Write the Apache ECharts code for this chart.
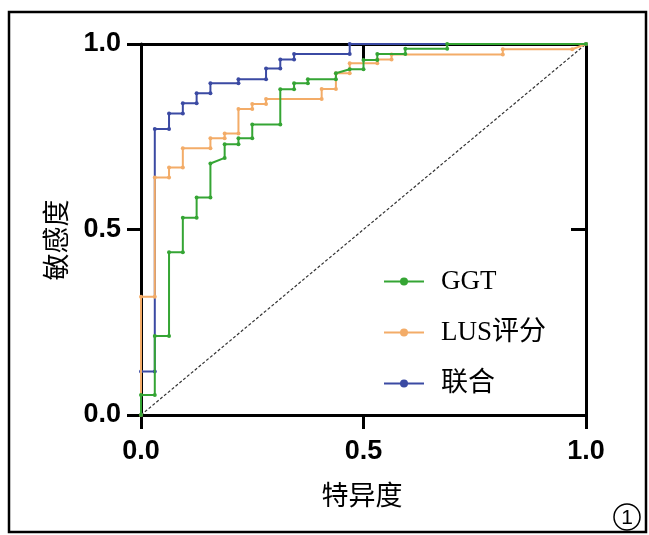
<!DOCTYPE html>
<html>
<head>
<meta charset="utf-8">
<script src="https://cdn.jsdelivr.net/npm/echarts@6/dist/echarts.min.js"></script>
<style>
html,body{margin:0;padding:0;background:#fff;}
#c{width:649px;height:535px;}
</style>
</head>
<body>
<div id="c"></div>
<script>
// ---- data (1 - specificity, sensitivity) ----
var seriesNames = ['GGT', 'LUS评分', '联合'];
var tickLabels = ['0.0', '0.5', '1.0'];
var xAxisTitle = '特异度';
var yAxisTitle = '敏感度';

var ggtFpr = [0,0,0.031,0.031,0.063,0.063,0.094,0.094,0.125,0.125,0.156,0.156,0.188,0.188,0.219,0.219,0.25,0.25,0.313,0.313,0.344,0.344,0.375,0.375,0.438,0.438,0.469,0.5,0.5,0.531,0.531,0.594,0.594,0.688,0.688,1];
var ggtTpr = [0,0.054,0.054,0.213,0.213,0.439,0.439,0.532,0.532,0.586,0.586,0.678,0.693,0.730,0.730,0.746,0.746,0.783,0.783,0.878,0.878,0.894,0.894,0.905,0.905,0.921,0.932,0.932,0.957,0.957,0.973,0.973,0.987,0.987,1,1];

var lusFpr = [0,0,0.031,0.031,0.063,0.063,0.094,0.094,0.156,0.156,0.188,0.188,0.219,0.219,0.25,0.25,0.281,0.281,0.406,0.406,0.438,0.438,0.469,0.469,0.531,0.531,0.563,0.563,0.813,0.813,0.969,1];
var lusTpr = [0,0.319,0.319,0.640,0.640,0.667,0.667,0.719,0.719,0.746,0.746,0.759,0.759,0.825,0.825,0.838,0.838,0.852,0.852,0.879,0.879,0.921,0.921,0.948,0.948,0.958,0.958,0.972,0.972,0.986,0.986,1];

var combFpr = [0,0,0.031,0.031,0.063,0.063,0.094,0.094,0.125,0.125,0.156,0.156,0.219,0.219,0.281,0.281,0.313,0.313,0.344,0.344,0.469,0.469,1];
var combTpr = [0,0.117,0.117,0.771,0.771,0.813,0.813,0.840,0.840,0.867,0.867,0.894,0.894,0.905,0.905,0.934,0.934,0.958,0.958,0.973,0.973,1,1];

var refX = [0, 1];
var refY = [0, 1];

function pairs(xs, ys){ var out=[]; for(var i=0;i<xs.length;i++){ out.push([xs[i], ys[i]]); } return out; }

var colors = { 'GGT':'#35a534', 'LUS评分':'#f3ac68', '联合':'#3b4aa3' };

var chart = echarts.init(document.getElementById('c'), null, {renderer:'canvas'});

var labelFont = {fontFamily:"'Liberation Sans', Arial, sans-serif", fontWeight:'bold', fontSize:27, color:'#000'};

function mkSeries(name, data, z){
  return {
    name: name, type:'line', data:data, clip:false, z:z,
    symbol:'circle', symbolSize:4, showAllSymbol:true,
    lineStyle:{color:colors[name], width:2},
    itemStyle:{color:colors[name]},
    emphasis:{disabled:true}, animation:false
  };
}

var option = {
  animation:false,
  backgroundColor:'#fff',
  grid:{left:141, top:44, width:445, height:371, containLabel:false},
  xAxis:[
    {type:'value', min:0, max:1, interval:0.5, position:'bottom',
     axisLine:{show:true, onZero:false, lineStyle:{color:'#000', width:3}},
     axisTick:{show:true, length:14, inside:false, lineStyle:{color:'#000', width:3}},
     axisLabel:Object.assign({margin:23, formatter:function(v){return tickLabels[Math.round(v*2)];}}, labelFont),
     splitLine:{show:false}},
    {type:'value', min:0, max:1, interval:0.5, position:'top',
     axisLine:{show:true, onZero:false, lineStyle:{color:'#000', width:3}},
     axisTick:{show:true, length:15, inside:true, lineStyle:{color:'#000', width:3}},
     axisLabel:{show:false}, splitLine:{show:false}}
  ],
  yAxis:[
    {type:'value', min:0, max:1, interval:0.5, position:'left',
     axisLine:{show:true, onZero:false, lineStyle:{color:'#000', width:3}},
     axisTick:{show:true, length:14, inside:false, lineStyle:{color:'#000', width:3}},
     axisLabel:Object.assign({margin:20, formatter:function(v){return tickLabels[Math.round(v*2)];}}, labelFont),
     splitLine:{show:false}},
    {type:'value', min:0, max:1, interval:0.5, position:'right',
     axisLine:{show:true, onZero:false, lineStyle:{color:'#000', width:3}},
     axisTick:{show:true, length:15, inside:true, lineStyle:{color:'#000', width:3}},
     axisLabel:{show:false}, splitLine:{show:false}}
  ],
  legend:{
    data: seriesNames, orient:'vertical', left:383, top:268,
    itemWidth:40, itemHeight:10, itemGap:24, padding:0,
    textStyle:{fontFamily:"'Liberation Serif', 'Noto Sans CJK SC', serif", fontSize:27, color:'#000', padding:[0,0,0,12]},
    selectedMode:false
  },
  series:[
    {name:'ref', type:'line', data:pairs(refX, refY), symbol:'none', clip:false, z:1,
     lineStyle:{color:'#333', width:1.2, type:[3,2]}, silent:true},
    mkSeries('联合', pairs(combFpr, combTpr), 3),
    mkSeries('LUS评分', pairs(lusFpr, lusTpr), 4),
    mkSeries('GGT', pairs(ggtFpr, ggtTpr), 5)
  ],
  graphic:[
    {type:'rect', shape:{x:9, y:12, width:637, height:520}, style:{fill:'none', stroke:'#000', lineWidth:2.5}, z:-1, silent:true},
    {type:'text', x:362, y:495, style:{text:xAxisTitle, fontFamily:"'Noto Sans CJK SC', sans-serif", fontSize:27, fill:'#000', textAlign:'center', textVerticalAlign:'middle'}},
    {type:'text', x:56, y:240, rotation:Math.PI/2, style:{text:yAxisTitle, fontFamily:"'Noto Sans CJK SC', sans-serif", fontSize:27, fill:'#000', textAlign:'center', textVerticalAlign:'middle'}},
    {type:'circle', shape:{cx:627, cy:517, r:13}, style:{fill:'none', stroke:'#000', lineWidth:1.5}},
    {type:'text', x:627, y:518, style:{text:'1', fontFamily:"'Liberation Sans', Arial, sans-serif", fontSize:21, fill:'#000', textAlign:'center', textVerticalAlign:'middle'}}
  ]
};
chart.setOption(option);
</script>
</body>
</html>
